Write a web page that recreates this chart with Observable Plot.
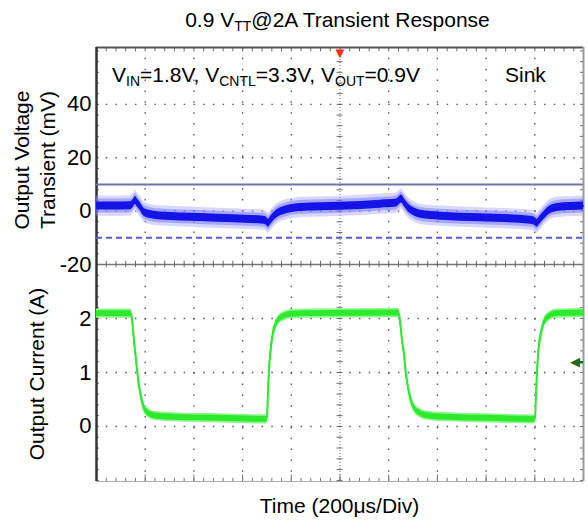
<!DOCTYPE html>
<html>
<head>
<meta charset="utf-8">
<script src="https://cdn.jsdelivr.net/npm/d3@7"></script>
<script src="https://cdn.jsdelivr.net/npm/@observablehq/plot@0.6"></script>
<style>
  html, body { margin: 0; padding: 0; background: #fff; }
  #wrap { position: relative; width: 588px; height: 521px; background: #fff; overflow: hidden;
          font-family: "Liberation Sans", Arial, Helvetica, sans-serif; color: #000; }
  .abs { position: absolute; white-space: nowrap; line-height: 24px; font-size: 21px; }
  .sub { font-size: 14px; position: relative; top: 4px; }
  .rot { transform: translate(-50%, -50%) rotate(-90deg); text-align: center; }
  .plotbox { position: absolute; left: 0; }
</style>
</head>
<body>
<div id="wrap">
  <div class="abs" style="left:94px;width:487px;top:8px;text-align:center;">0.9 V<span class="sub">TT</span>@2A Transient Response</div>
  <div id="topPlot" class="plotbox" style="top:0px;"></div>
  <div id="botPlot" class="plotbox" style="top:260px;"></div>
  <div class="abs" style="left:112px;top:63px;">V<span class="sub">IN</span>=1.8V, V<span class="sub">CNTL</span>=3.3V, V<span class="sub">OUT</span>=0.9V</div>
  <div class="abs" style="left:505px;top:63px;">Sink</div>
  <div class="abs rot" style="left:22px;top:160px;">Output Voltage</div>
  <div class="abs rot" style="left:48px;top:160px;">Transient (mV)</div>
  <div class="abs rot" style="left:37px;top:374px;">Output Current (A)</div>
  <div class="abs" style="left:96px;width:487px;top:494px;text-align:center;">Time (200μs/Div)</div>
</div>
<script>
// ---- data (time in µs, 200 µs/div, 10 divisions) ----
const voltTime = [0, 78, 140, 152, 160, 168, 181, 193, 222, 263, 427, 563, 686, 698, 706, 715, 727, 743, 784, 838,
                  1002, 1166, 1232, 1244, 1253, 1265, 1281, 1298, 1331, 1413, 1577, 1782, 1799, 1810, 1819, 1832, 1851, 1892, 2000];
const voltMv   = [1.9, 1.9, 2.0, 3.0, 4.0, 3.0, 1.5, -0.2, -1.3, -1.8, -2.4, -2.9, -3.4, -3.8, -4.5, -3.5, -2.2, -0.9, 0.6, 1.4,
                  1.8, 2.6, 3.0, 4.0, 4.5, 3.0, 1.2, 0.0, -1.2, -1.9, -2.5, -3.4, -3.8, -4.5, -3.6, -2.2, -0.3, 1.4, 1.9];
const curTime = [0, 142, 148, 154, 160, 168, 175, 181, 194, 215, 249, 317, 500, 700, 704, 708, 714, 722, 733, 748, 770, 800, 860,
                 1242, 1248, 1255, 1262, 1270, 1277, 1283, 1303, 1331, 1372, 1450, 1600, 1801, 1805, 1809, 1815, 1825, 1836, 1864, 1890, 2000];
const curAmp  = [2.09, 2.09, 1.9, 1.6, 1.35, 1.0, 0.75, 0.6, 0.36, 0.24, 0.19, 0.17, 0.15, 0.13, 0.6, 1.0, 1.35, 1.65, 1.85, 1.97, 2.04, 2.08, 2.09,
                 2.1, 1.9, 1.6, 1.38, 1.02, 0.8, 0.65, 0.36, 0.24, 0.19, 0.17, 0.15, 0.13, 0.6, 1.0, 1.4, 1.7, 1.9, 2.05, 2.09, 2.1];
const vTicks = [-20, 0, 20, 40];
const aTicks = [0, 1, 2];
const limitHi = 10, limitLo = -10;          // mV limit lines
const triggerTime = 1000;                   // µs (centre)
const triggerLevel = 1.19;                  // A
const divTimes = [0, 200, 400, 600, 800, 1000, 1200, 1400, 1600, 1800, 2000];
const minorTimes = d3.range(0, 2001, 40);
const vMinor = d3.range(-20, 61, 4);
const aMinor = d3.range(-1, 3.01, 0.2);

const volt = voltTime.map((t, i) => ({t, v: voltMv[i]}));
const cur = curTime.map((t, i) => ({t, a: curAmp[i]}));

const vDomain = [-20, 61.3];
const aDomain = [-1.02, 3];
const xDomain = [0, 2000];
const innerDivs = divTimes.filter(t => t > xDomain[0] && t < xDomain[1] && t !== triggerTime);
const font = "Liberation Sans, Arial, Helvetica, sans-serif";
const dotH = "1.5 8.24", dotV = "1.5 9.36";
const grid = "#5a5a5a";

const topPlot = Plot.plot({
  width: 588, height: 268, marginTop: 47, marginBottom: 4, marginLeft: 96, marginRight: 5,
  style: {background: "transparent", overflow: "visible", fontSize: "22px", fontFamily: font, color: "#000"},
  x: {domain: xDomain, axis: null},
  y: {domain: vDomain, ticks: vTicks, tickSize: 0, tickPadding: 5, tickFormat: d => String(d), label: null},
  marks: [
    Plot.ruleY(vTicks.filter(v => v > vDomain[0]), {stroke: grid, strokeWidth: 1.4, strokeDasharray: dotH}),
    Plot.ruleX(innerDivs, {stroke: grid, strokeWidth: 1.4, strokeDasharray: dotV}),
    Plot.ruleX([triggerTime], {stroke: "#666", strokeWidth: 1, strokeDasharray: "1 2"}),
    Plot.ruleY(vMinor, {x1: triggerTime - 12, x2: triggerTime + 12, stroke: "#666"}),
    Plot.ruleY([vDomain[0]], {stroke: "#777", strokeWidth: 1.5}),
    Plot.ruleX(minorTimes, {y1: vDomain[0] - 1.2, y2: vDomain[0] + 1.2, stroke: "#666"}),
    Plot.ruleX(minorTimes, {y1: vDomain[1], y2: vDomain[1] - 1.6, stroke: "#666"}),
    Plot.ruleY(vMinor, {x1: xDomain[0], x2: xDomain[0] + 12, stroke: "#666"}),
    Plot.ruleY(vMinor, {x1: xDomain[1] - 12, x2: xDomain[1], stroke: "#666"}),
    Plot.ruleY([vDomain[1]], {stroke: "#555", strokeWidth: 2}),
    Plot.ruleX([xDomain[1]], {stroke: "#999", strokeWidth: 2}),
    Plot.ruleX([xDomain[0]], {stroke: "#333", strokeWidth: 2.5}),
    Plot.ruleY([limitHi], {stroke: "#7272a6", strokeWidth: 2}),
    Plot.ruleY([limitLo], {stroke: "#5b5bc8", strokeWidth: 2, strokeDasharray: "6 4"}),
    Plot.areaY(volt, {x: "t", y1: d => d.v - 3.8, y2: d => d.v + 3.8, fill: "#9a9aff", fillOpacity: 0.4, curve: "monotone-x"}),
    Plot.areaY(volt, {x: "t", y1: d => d.v - 2.6, y2: d => d.v + 2.6, fill: "#6a6aff", fillOpacity: 0.45, curve: "monotone-x"}),
    Plot.areaY(volt, {x: "t", y1: d => d.v - 1.5, y2: d => d.v + 1.5, fill: "#1414e6", curve: "monotone-x"}),
    Plot.lineY(volt, {x: "t", y: "v", stroke: "#1414e6", strokeWidth: 1.5, curve: "monotone-x"}),
    Plot.text([triggerTime], {x: d => d, frameAnchor: "top", text: () => "▼", fill: "#ff2a1a", fontSize: 15, lineAnchor: "top", dy: 0})
  ]
});
document.getElementById("topPlot").appendChild(topPlot);

const botPlot = Plot.plot({
  width: 588, height: 261, marginTop: 4, marginBottom: 40, marginLeft: 96, marginRight: 5,
  style: {background: "transparent", overflow: "visible", fontSize: "22px", fontFamily: font, color: "#000"},
  x: {domain: xDomain, axis: null},
  y: {domain: aDomain, ticks: aTicks, tickSize: 0, tickPadding: 5, tickFormat: d => String(d), label: null},
  marks: [
    Plot.ruleY(aTicks, {stroke: grid, strokeWidth: 1.4, strokeDasharray: dotH}),
    Plot.ruleX(innerDivs, {stroke: grid, strokeWidth: 1.4, strokeDasharray: dotV}),
    Plot.ruleX([triggerTime], {stroke: "#666", strokeWidth: 1, strokeDasharray: "1 2"}),
    Plot.ruleY(aMinor, {x1: triggerTime - 12, x2: triggerTime + 12, stroke: "#666"}),
    Plot.ruleX(minorTimes, {y1: aDomain[0], y2: aDomain[0] + 0.06, stroke: "#777"}),
    Plot.ruleX(divTimes, {y1: aDomain[0], y2: aDomain[0] + 0.12, stroke: "#777"}),
    Plot.ruleY(aMinor, {x1: xDomain[0], x2: xDomain[0] + 12, stroke: "#666"}),
    Plot.ruleY(aMinor, {x1: xDomain[1] - 12, x2: xDomain[1], stroke: "#666"}),
    Plot.ruleY([aDomain[0]], {stroke: "#aaa", strokeWidth: 1}),
    Plot.ruleX([xDomain[1]], {stroke: "#999", strokeWidth: 2}),
    Plot.ruleX([xDomain[0]], {stroke: "#333", strokeWidth: 2.5}),
    Plot.areaY(cur, {x: "t", y1: d => d.a - 0.085, y2: d => d.a + 0.085, fill: "#8ef78e", curve: "monotone-x"}),
    Plot.areaY(cur, {x: "t", y1: d => d.a - 0.055, y2: d => d.a + 0.055, fill: "#2eea2e", curve: "monotone-x"}),
    Plot.lineY(cur, {x: "t", y: "a", stroke: "#2eea2e", strokeWidth: 2, curve: "monotone-x"}),
    Plot.ruleY([triggerLevel], {x1: xDomain[1] - 28, x2: xDomain[1], stroke: "#1d6b1d", strokeWidth: 2.5}),
    Plot.text([triggerLevel], {y: d => d, frameAnchor: "right", text: () => "◀", fill: "#1d6b1d", fontSize: 13, textAnchor: "end", dx: -4})
  ]
});
document.getElementById("botPlot").appendChild(botPlot);
</script>
</body>
</html>
